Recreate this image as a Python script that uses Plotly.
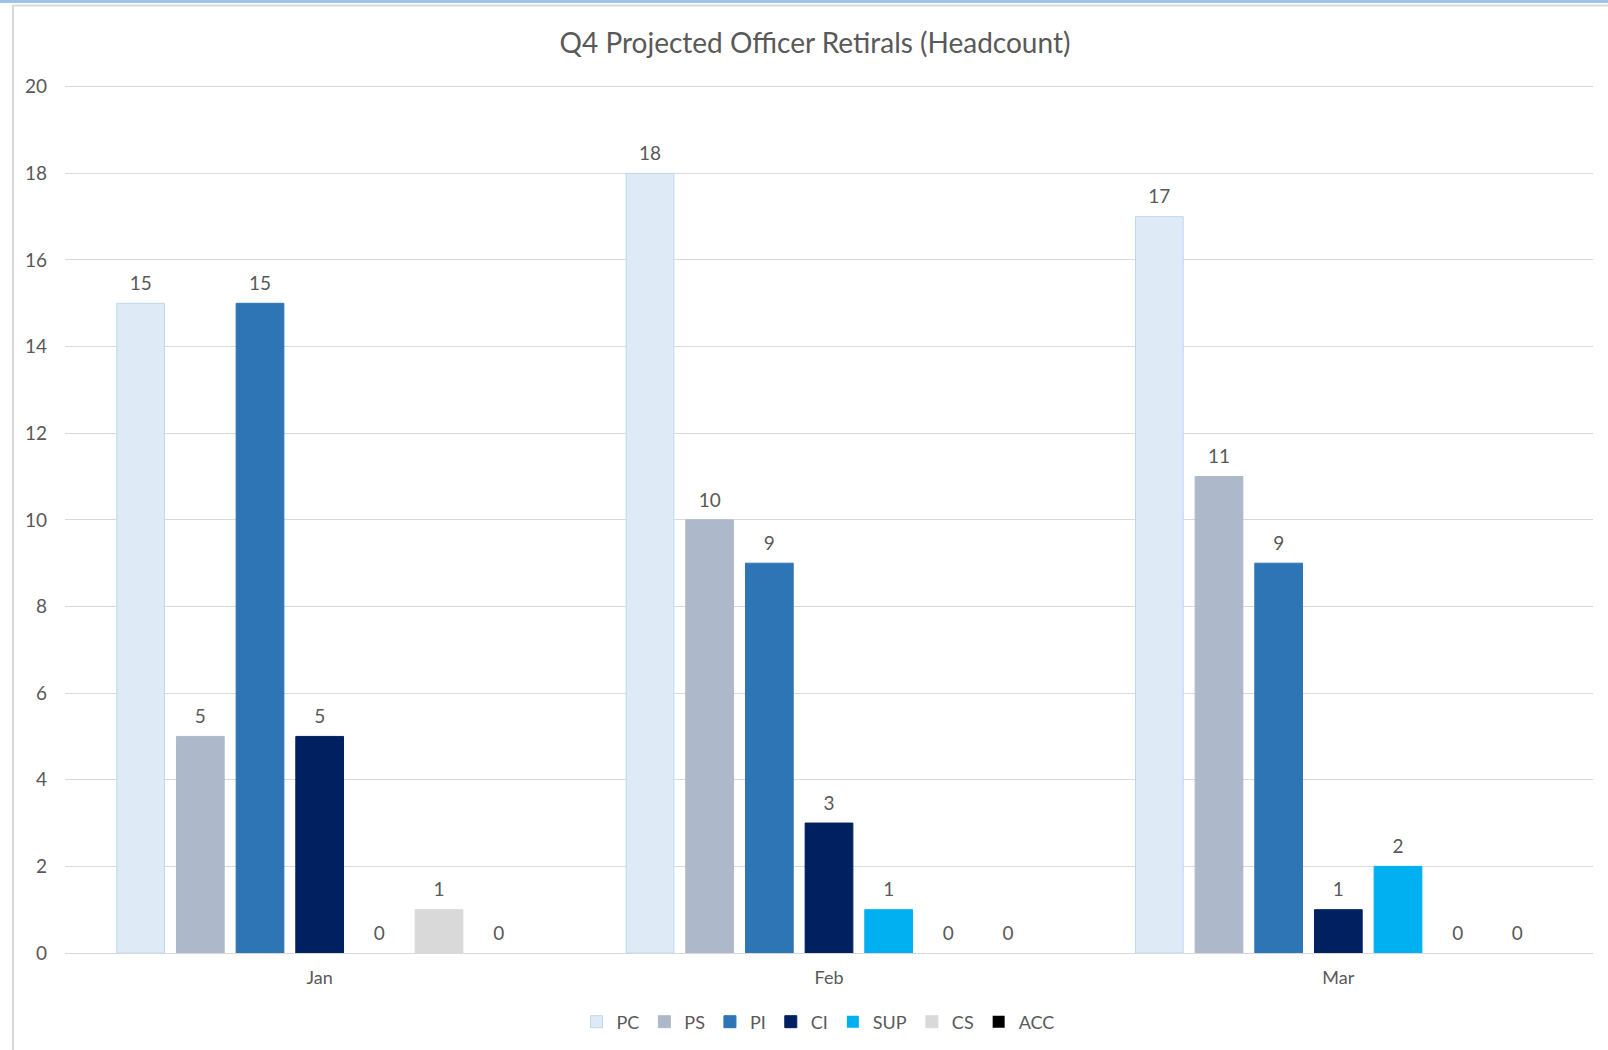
import plotly.graph_objects as go

months = ["Jan", "Feb", "Mar"]
series_names = ["PC", "PS", "PI", "CI", "SUP", "CS", "ACC"]
pc = [15, 18, 17]
ps = [5, 10, 11]
pi = [15, 9, 9]
ci = [5, 3, 1]
sup = [0, 1, 2]
cs = [1, 0, 0]
acc = [0, 0, 0]
values = [pc, ps, pi, ci, sup, cs, acc]
fill_colors = ["#DEEBF7", "#ADB9CA", "#2E75B6", "#002060", "#00B0F0", "#D9D9D9", "#000000"]
line_colors = ["#BDD7EE", "#ADB9CA", "#2E75B6", "#002060", "#00B0F0", "#D9D9D9", "#000000"]

FONT = "Lato"
TXT = "#595959"

W, H = 1608, 1050
L, R, T, B = 65, 15, 85, 97
pw, ph = W - L - R, H - T - B

def px(x):
    return (x - L) / pw

def py(y):
    return (H - B - y) / ph

fig = go.Figure()
for name, vals, fc, lc in zip(series_names, values, fill_colors, line_colors):
    fig.add_trace(go.Bar(
        name=name, x=months, y=vals, offsetgroup=name,
        marker=dict(color=fc, line=dict(color=lc, width=[1 if v > 0 else 0 for v in vals])),
        hoverinfo="skip",
    ))
# data labels, grouped like the bars
for name, vals in zip(series_names, values):
    fig.add_trace(go.Scatter(
        name=name, x=months, y=vals, offsetgroup=name,
        mode="markers+text", text=[str(v) for v in vals], textposition="top center",
        marker=dict(size=12, color="rgba(0,0,0,0)"),
        textfont=dict(family=FONT, size=19, color=TXT),
        showlegend=False, hoverinfo="skip", cliponaxis=False,
    ))

fig.update_layout(
    width=W, height=H,
    margin=dict(l=L, r=R, t=T, b=B, autoexpand=False),
    paper_bgcolor="white", plot_bgcolor="white",
    barmode="group", bargap=0.18, bargroupgap=0.2,
    scattermode="group", scattergap=0.18,
    font=dict(family=FONT, color=TXT, size=18),
    title=dict(text="Q4 Projected Officer Retirals (Headcount)",
               x=px(815), xref="paper", xanchor="center",
               y=1 - 43 / H, yref="container", yanchor="middle",
               font=dict(family=FONT, size=28, color=TXT)),
    showlegend=True,
    legend=dict(orientation="h", x=px(818), xanchor="center",
                y=py(1022), yanchor="middle",
                font=dict(family=FONT, size=18, color=TXT),
                itemwidth=30, traceorder="normal", tracegroupgap=0),
)
fig.update_yaxes(range=[0, 20.04], tickvals=list(range(0, 21, 2)), showgrid=True,
                 gridcolor="#D9D9D9", gridwidth=1, zeroline=True,
                 zerolinecolor="#D9D9D9", zerolinewidth=1,
                 showline=False, ticks="", ticklabelstandoff=17,
                 tickfont=dict(family=FONT, size=19, color=TXT))
fig.update_xaxes(showline=False, ticks="", ticklabelstandoff=12,
                 tickfont=dict(family=FONT, size=18, color=TXT))

# chart frame decorations
fig.add_shape(type="line", xref="paper", yref="paper",
              x0=px(0), x1=px(W), y0=py(1.5), y1=py(1.5),
              line=dict(color="#9DC3E6", width=3))
fig.add_shape(type="line", xref="paper", yref="paper",
              x0=px(13), x1=px(W), y0=py(5.5), y1=py(5.5),
              line=dict(color="#D9D9D9", width=2))
fig.add_shape(type="line", xref="paper", yref="paper",
              x0=px(13), x1=px(13), y0=py(5), y1=py(H),
              line=dict(color="#D9D9D9", width=2))

fig.write_html("out.html", config={"displayModeBar": False},
               post_script="document.body.style.margin='0';document.body.style.overflow='hidden';")
